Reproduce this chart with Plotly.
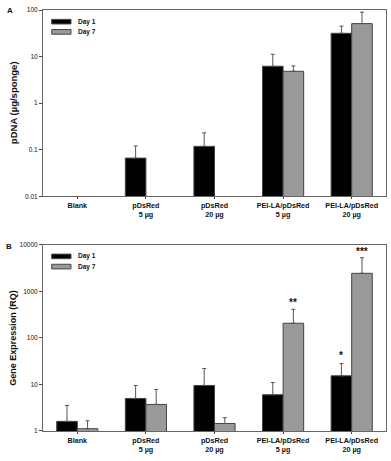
import plotly.graph_objects as go
import math

categories = ["Blank", "pDsRed<br>5 µg", "pDsRed<br>20 µg",
              "PEI-LA/pDsRed<br>5 µg", "PEI-LA/pDsRed<br>20 µg"]

# Panel A: pDNA (µg/sponge)
a_day1 = [None, 0.066, 0.118, 6.2, 31.6]
a_day1_err = [0, 0.054, 0.112, 5.0, 13.4]
a_day7 = [None, None, None, 4.84, 51.0]
a_day7_err = [0, 0, 0, 1.46, 39.0]

# Panel B: Gene Expression (RQ)
b_day1 = [1.61, 5.0, 9.5, 6.0, 15.3]
b_day1_err = [1.93, 4.5, 12.4, 5.0, 12.7]
b_day7 = [1.12, 3.72, 1.45, 206.0, 2430.0]
b_day7_err = [0.54, 4.1, 0.48, 205.0, 2820.0]

# significance marks: (label, category index, series)
sig_marks = [("**", 3, "day7"), ("*", 4, "day1"), ("***", 4, "day7")]

a_ticks = [0.01, 0.1, 1, 10, 100]
a_ticktext = ["0.01", "0.1", "1", "10", "100"]
b_ticks = [1, 10, 100, 1000, 10000]
b_ticktext = ["1", "10", "100", "1000", "10000"]

FONT = "Liberation Sans, Arial, sans-serif"
DAY1_COLOR = "#000000"
DAY7_COLOR = "#999999"
EDGE = "#444444"
ERR = "#555555"
TXT = "#111111"

fig = go.Figure()

def add_bars(y1, e1, y7, e7, xa, ya):
    fig.add_trace(go.Bar(
        x=categories, y=y1, name="Day 1", xaxis=xa, yaxis=ya,
        marker=dict(color=DAY1_COLOR, line=dict(color=EDGE, width=1)),
        error_y=dict(type="data", symmetric=False, array=e1,
                     arrayminus=[0] * len(e1), color=ERR, thickness=1, width=2),
        showlegend=False))
    fig.add_trace(go.Bar(
        x=categories, y=y7, name="Day 7", xaxis=xa, yaxis=ya,
        marker=dict(color=DAY7_COLOR, line=dict(color=EDGE, width=1)),
        error_y=dict(type="data", symmetric=False, array=e7,
                     arrayminus=[0] * len(e7), color=ERR, thickness=1, width=2),
        showlegend=False))

add_bars(a_day1, a_day1_err, a_day7, a_day7_err, "x", "y")
add_bars(b_day1, b_day1_err, b_day7, b_day7_err, "x2", "y2")

axis_common = dict(showline=True, linecolor="#666666", linewidth=1, mirror=True,
                   showgrid=False, zeroline=False)

xcommon = dict(axis_common, type="category", range=[-0.5, 4.5],
               ticks="outside", ticklen=2, tickcolor="#444444",
               tickfont=dict(family=FONT, size=7.2, color=TXT, weight="bold"))

ycommon = dict(axis_common, type="log", ticks="outside", ticklen=3,
               tickcolor="#444444",
               tickfont=dict(family=FONT, size=6.5, color=TXT))

fig.update_layout(
    width=391, height=461,
    margin=dict(l=43, r=5, t=10, b=30),
    paper_bgcolor="white", plot_bgcolor="white",
    barmode="group", bargap=0.4, bargroupgap=0,
    font=dict(family=FONT, color=TXT),
    xaxis=dict(xcommon, domain=[0, 1], anchor="y"),
    yaxis=dict(ycommon, domain=[0.5575, 1.0], anchor="x", range=[-2, 2],
               tickvals=a_ticks, ticktext=a_ticktext),
    xaxis2=dict(xcommon, domain=[0, 1], anchor="y2"),
    yaxis2=dict(ycommon, domain=[0, 0.4425], anchor="x2", range=[0, 4],
                tickvals=b_ticks, ticktext=b_ticktext),
)

# custom legends
for ya, xa in (("y", "x"), ("y2", "x2")):
    for (name, color, y0, y1) in (("Day 1", DAY1_COLOR, 0.925, 0.9496),
                                  ("Day 7", DAY7_COLOR, 0.870, 0.895)):
        fig.add_shape(type="rect", xref=f"{xa} domain", yref=f"{ya} domain",
                      x0=0.0254, x1=0.0816, y0=y0, y1=y1,
                      fillcolor=color, line=dict(color=EDGE, width=1))
        fig.add_annotation(text=name, xref=f"{xa} domain", yref=f"{ya} domain",
                           x=0.0962, y=(y0 + y1) / 2, xanchor="left", yanchor="middle",
                           showarrow=False,
                           font=dict(family=FONT, size=6.5, color=TXT, weight="bold"))

# y-axis titles
fig.add_annotation(text="pDNA (µg/sponge)", xref="paper", yref="y domain",
                   x=-30/343, xanchor="center", y=0.5, yanchor="middle",
                   textangle=-90, showarrow=False,
                   font=dict(family=FONT, size=9.5, color=TXT, weight="bold"))
fig.add_annotation(text="Gene Expression (RQ)", xref="paper", yref="y2 domain",
                   x=-30/343, xanchor="center", y=0.5, yanchor="middle",
                   textangle=-90, showarrow=False,
                   font=dict(family=FONT, size=9, color=TXT, weight="bold"))

# panel letters
fig.add_annotation(text="A", xref="paper", yref="y domain", x=-33/343, y=1.0,
                   xanchor="center", yanchor="middle", showarrow=False,
                   font=dict(family=FONT, size=8, color=TXT, weight="bold"))
fig.add_annotation(text="B", xref="paper", yref="y2 domain", x=-34/343, y=0.988,
                   xanchor="center", yanchor="middle", showarrow=False,
                   font=dict(family=FONT, size=8, color=TXT, weight="bold"))

# significance marks
for label, idx, series in sig_marks:
    if series == "day1":
        top = b_day1[idx] + b_day1_err[idx]
        xpos = idx - 0.15
        shift = 1
    else:
        top = b_day7[idx] + b_day7_err[idx]
        xpos = idx + 0.15
        shift = -1
    fig.add_annotation(text=label, xref="x2", yref="y2", x=xpos, y=math.log10(top),
                       xanchor="center", yanchor="bottom", yshift=shift, showarrow=False,
                       font=dict(family=FONT, size=10, color=TXT, weight="bold"))

fig.write_html("out.html", config={"displayModeBar": False},
               post_script="document.body.style.margin='0';document.body.style.overflow='hidden';")
